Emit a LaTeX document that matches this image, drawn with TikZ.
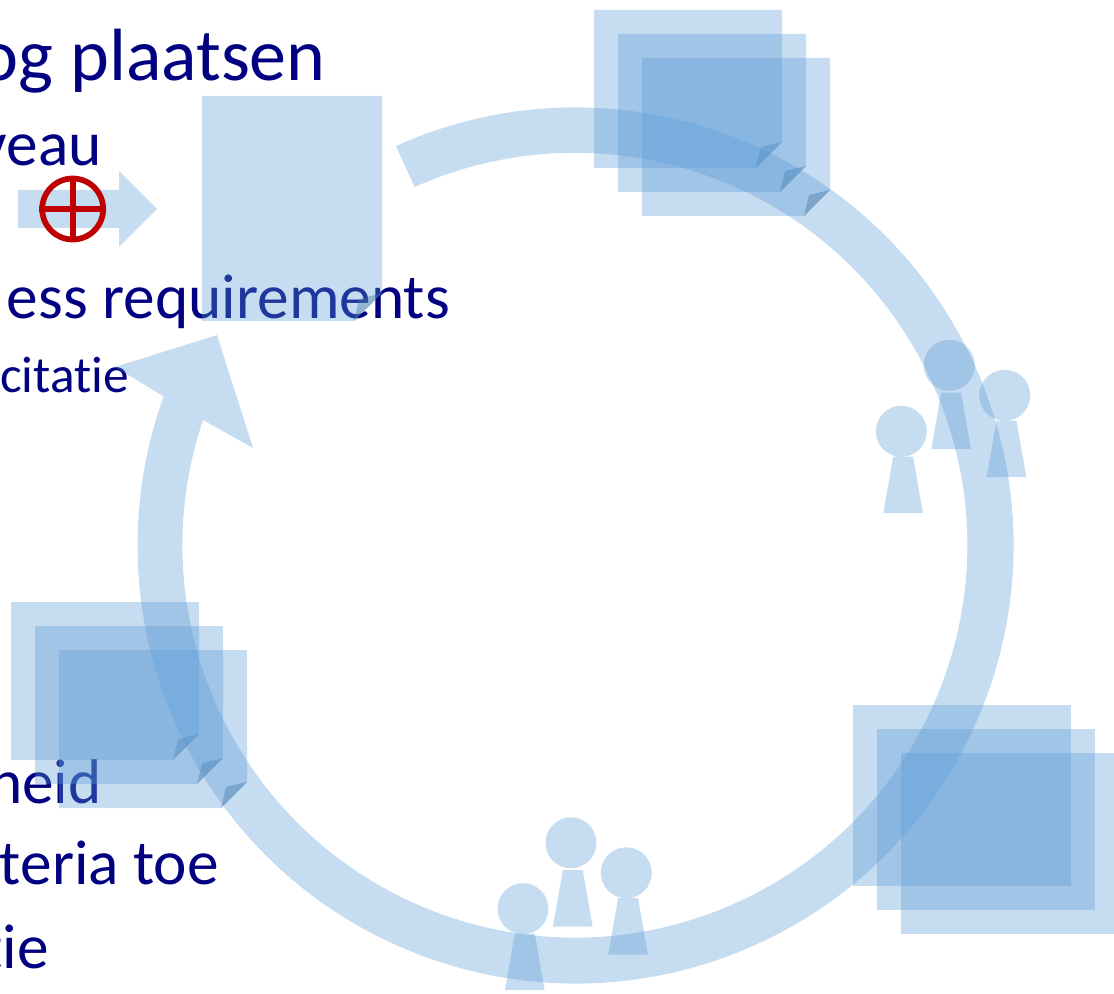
\documentclass[tikz,border=0pt]{standalone}
\usepackage{fontspec}
\setmainfont{Carlito}[Ligatures=NoCommon]
\definecolor{sheetblue}{RGB}{91,155,213}
\definecolor{textblue}{RGB}{0,0,128}
\definecolor{signred}{RGB}{192,0,0}
\begin{document}
\begin{tikzpicture}[x=0.75pt,y=0.75pt]
    \tikzstyle{blue shape}=[fill=sheetblue,fill opacity=0.35,draw=none]
    \tikzstyle{sheet fold}=[fill=sheetblue!75!black,fill opacity=0.4,draw=none]
    \tikzstyle{text line}=[text=textblue,inner sep=0pt,anchor=base east]
    \tikzstyle{big line}=[text line,font=\fontsize{55.5}{55.5}\selectfont]
    \tikzstyle{mid line}=[text line,font=\fontsize{47.5}{47.5}\selectfont]
    \tikzstyle{small line}=[text line,font=\fontsize{38.5}{38.5}\selectfont]

    \useasboundingbox (0,0) rectangle (1114,-994);
    \clip (0,0) rectangle (1114,-994);

    % Draw the texts first, the sheets lie over them
    \node[big line] (plaatsen) at (326,-81) {og plaatsen};
    \node[mid line] (niveau) at (102,-166) {veau};
    \node[mid line] (requirements) at (450,-319) {ess requirements};
    \node[small line] (citatie) at (129,-393) {citatie};
    \node[mid line] (heid) at (102,-803) {heid};
    \node[mid line] (criteria) at (219,-884) {teria toe};
    \node[mid line] (tie) at (49,-968) {tie};

    % Draw the ring with its arrow head
    \fill[blue shape] (396,-146) arc[start angle=114.2,end angle=-199.9,radius=438]
        -- (115,-367) -- (217,-335) -- (253,-448) -- (203,-420)
        arc[start angle=-198.6,end angle=114.1,radius=392.4] -- cycle;

    % Draw the small arrow and the sign on it
    \fill[blue shape] (18,-190) -- (119,-190) -- (119,-171) -- (157,-209)
        -- (119,-247) -- (119,-228) -- (18,-228) -- cycle;
    \node[circle,draw=signred,line width=4.3pt,minimum size=45.75pt,inner sep=0pt] (sign) at (72.7,-209) {};
    \draw[signred,line width=4.3pt] (sign.north) -- (sign.south);
    \draw[signred,line width=4.3pt] (sign.west) -- (sign.east);

    % Draw the single sheet
    \fill[blue shape] (202,-96) -- (382,-96) -- (382,-293) -- (354,-321) -- (202,-321) -- cycle;
    \fill[sheet fold] (382,-293) -- (359,-299) -- (354,-321) -- cycle;

    % Draw the piles of sheets with a folded corner
    \foreach \x/\y in {594/10,618/34,642/58,11/602,35/626,59/650}
    {
        \fill[blue shape] (\x,-\y) -- +(188,0) -- +(188,-132) -- +(162,-158) -- +(0,-158) -- cycle;
        \fill[sheet fold] (\x,-\y) ++(188,-132) -- ++(-21,-5) -- ++(-5,-21) -- cycle;
    }

    % Draw the pile of plain sheets
    \foreach \x/\y in {853/705,877/729,901/753}
        \fill[blue shape] (\x,-\y) rectangle +(218,-181);

    % Draw the persons, a head and a body
    \foreach \x/\y/\t in {949.3/365.3/392.7,1004.7/395.3/420.7,901.3/431.3/456.7,
                          571/842.8/870,626.3/872.8/898,523/908.7/933.5}
    {
        \fill[blue shape] (\x,-\y) circle (25.5);
        \fill[blue shape] (\x+1.8-10,-\t) -- (\x+1.8+10,-\t) -- (\x+1.8+19.8,-\t-56.5) -- (\x+1.8-19.8,-\t-56.5) -- cycle;
    }
\end{tikzpicture}
\end{document}
